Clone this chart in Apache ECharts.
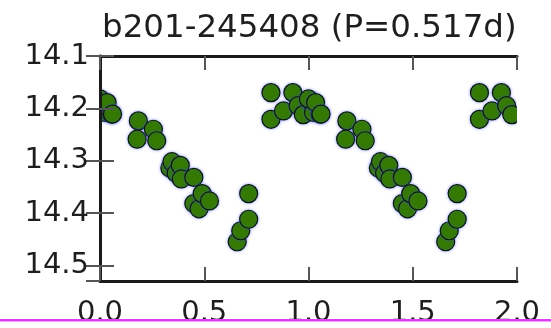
<!DOCTYPE html>
<html>
<head>
<meta charset="utf-8">
<script src="https://cdn.jsdelivr.net/npm/echarts@6/dist/echarts.min.js"></script>
<style>
html,body{margin:0;padding:0;background:#fff;}
#c{width:551px;height:328px;}
</style>
</head>
<body>
<div id="c"></div>
<script>
// One cycle of the folded light curve (phase, magnitude); plotted twice (phase and phase+1)
var phase = [0.016, 0.024, 0.056, 0.184, 0.178, 0.256, 0.272,
             0.335, 0.345, 0.365, 0.385, 0.39, 0.45, 0.45, 0.475, 0.49, 0.525,
             0.658, 0.675, 0.713, 0.713,
             0.82, 0.82, 0.88, 0.925, 0.95, 0.975, 0.0, 0.034, 0.06];
var mag =   [14.189, 14.208, 14.211, 14.224, 14.259, 14.240, 14.262,
             14.314, 14.302, 14.324, 14.309, 14.335, 14.332, 14.382, 14.392, 14.363, 14.377,
             14.455, 14.434, 14.363, 14.412,
             14.170, 14.221, 14.205, 14.170, 14.195, 14.212, 14.182, 14.189, 14.211];
var titleText = 'b201-245408 (P=0.517d)';
var xTicks = [0.0, 0.5, 1.0, 1.5, 2.0];
var yTicks = [14.1, 14.2, 14.3, 14.4, 14.5];

var pts = [];
for (var k = 0; k < 2; k++) {
  for (var i = 0; i < phase.length; i++) {
    pts.push([phase[i] + k, mag[i]]);
  }
}

var axisLineStyle = {color: '#1a1a1a', width: 3};
var tickStyle = {color: '#555', width: 2};
var font = 'DejaVu Sans';

var chart = echarts.init(document.getElementById('c'), null, {renderer: 'canvas'});
chart.setOption({
  animation: false,
  backgroundColor: '#fff',
  title: {
    text: titleText, zlevel: 1,
    left: 102, top: 12, padding: 0,
    textStyle: {fontFamily: font, fontSize: 32.5, fontWeight: 'normal', color: '#1e1e1e'}
  },
  grid: {left: 100, right: 34, top: 56, bottom: 46},
  xAxis: [{
    type: 'value', min: xTicks[0], max: xTicks[xTicks.length - 1], interval: 0.5,
    position: 'bottom', zlevel: 1,
    axisLine: {lineStyle: axisLineStyle},
    axisTick: {inside: true, length: 14, lineStyle: tickStyle},
    splitLine: {show: false},
    axisLabel: {fontFamily: font, fontSize: 29, color: '#1e1e1e', margin: 18,
      formatter: function (v) { return v.toFixed(1); }}
  }, {
    type: 'value', min: xTicks[0], max: xTicks[xTicks.length - 1], interval: 0.5,
    position: 'top', zlevel: 1,
    axisLine: {lineStyle: axisLineStyle},
    axisTick: {inside: true, length: 14, lineStyle: tickStyle},
    splitLine: {show: false},
    axisLabel: {show: false}
  }],
  yAxis: [{
    type: 'value', inverse: true, min: yTicks[0], max: 14.53, interval: 0.1,
    position: 'left', zlevel: 1,
    axisLine: {lineStyle: axisLineStyle},
    axisTick: {inside: true, length: 14, lineStyle: tickStyle},
    splitLine: {show: false},
    axisLabel: {fontFamily: font, fontSize: 29, color: '#1e1e1e', margin: 11, showMaxLabel: false,
      formatter: function (v) { return v.toFixed(1); }}
  }, {
    type: 'value', inverse: true, min: yTicks[0], max: 14.53, interval: 0.1,
    position: 'right', zlevel: 1,
    axisLine: {lineStyle: axisLineStyle},
    axisTick: {inside: true, length: 14, lineStyle: tickStyle},
    splitLine: {show: false},
    axisLabel: {show: false}
  }],
  series: [{
    type: 'scatter',
    xAxisIndex: 0, yAxisIndex: 0,
    data: pts,
    symbol: 'circle',
    symbolSize: 18,
    clip: true,
    itemStyle: {color: '#357a00', borderColor: '#0a1a00', borderWidth: 1.2,
      shadowColor: 'rgba(70,90,255,0.55)', shadowBlur: 3, opacity: 1}
  }],
  graphic: [
    // white masks outside the plot area so markers are clipped at the spines
    {type: 'rect', zlevel: 0, z: 50, shape: {x: 0, y: 0, width: 100, height: 328}, style: {fill: '#fff'}},
    {type: 'rect', zlevel: 0, z: 50, shape: {x: 517, y: 0, width: 34, height: 328}, style: {fill: '#fff'}},
    {type: 'rect', zlevel: 0, z: 50, shape: {x: 0, y: 0, width: 551, height: 56}, style: {fill: '#fff'}},
    {type: 'rect', zlevel: 0, z: 50, shape: {x: 0, y: 282, width: 551, height: 46}, style: {fill: '#fff'}},
    {type: 'rect', zlevel: 1, z: 100, shape: {x: 0, y: 321, width: 551, height: 7}, style: {fill: '#fff'}},
    {type: 'rect', zlevel: 1, z: 101, shape: {x: 0, y: 319, width: 551, height: 2.5}, style: {fill: '#e03cf3'}}
  ]
});
</script>
</body>
</html>
